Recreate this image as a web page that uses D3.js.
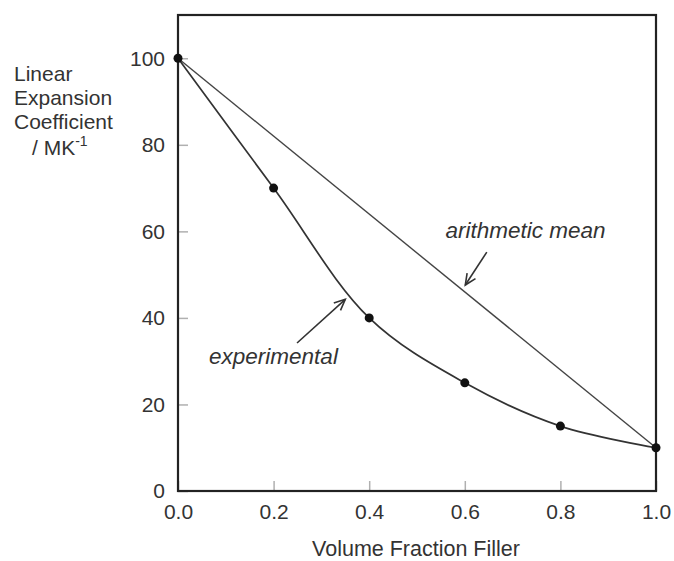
<!DOCTYPE html>
<html>
<head>
<meta charset="utf-8">
<script src="https://cdn.jsdelivr.net/npm/d3@7"></script>
<style>
  body { margin: 0; background: #fff; }
  text { font-family: 'Liberation Sans', Arial, sans-serif; fill: #333; }
</style>
</head>
<body>
<div class="chart"></div>
<script>
'use strict';

var fraction = [0.0, 0.2, 0.4, 0.6, 0.8, 1.0];
var experimental = [100, 70, 40, 25, 15, 10];
var meanEnds = [[0, 100], [1, 10]];
var xTicks = [0.0, 0.2, 0.4, 0.6, 0.8, 1.0];
var yTicks = [0, 20, 40, 60, 80, 100];
var yTitle = ['Linear', 'Expansion', 'Coefficient'];

var margin = {top: 15, right: 18, bottom: 70, left: 178},
  width = 674 - margin.left - margin.right,
  height = 561 - margin.top - margin.bottom;

var x = d3.scaleLinear().domain([0, 1]).range([0, width]);
var y = d3.scaleLinear().domain([0, 110]).range([height, 0]);

var root = d3.select('.chart').append('svg')
  .attr('width', 674)
  .attr('height', 561);

var defs = root.append('defs');
defs.append('marker')
  .attr('id', 'arrow')
  .attr('viewBox', '-12 -6 14 12')
  .attr('refX', 0).attr('refY', 0)
  .attr('markerWidth', 14).attr('markerHeight', 12)
  .attr('markerUnits', 'userSpaceOnUse')
  .attr('orient', 'auto')
  .append('path')
  .attr('d', 'M-11,-5L0,0L-11,5')
  .attr('fill', 'none')
  .attr('stroke', '#333')
  .attr('stroke-width', 1.6);

var svg = root.append('g')
  .attr('transform', 'translate(' + margin.left + ',' + margin.top + ')');

// axes with inward ticks
var xAxis = svg.append('g')
  .attr('transform', 'translate(0,' + height + ')')
  .call(d3.axisBottom(x).tickValues(xTicks).tickFormat(d3.format('.1f'))
    .tickSizeInner(-10).tickSizeOuter(0).tickPadding(13));
var yAxis = svg.append('g')
  .call(d3.axisLeft(y).tickValues(yTicks)
    .tickSizeInner(-10).tickSizeOuter(0).tickPadding(13));

[xAxis, yAxis].forEach(function(a) {
  a.select('.domain').remove();
  a.selectAll('line').attr('stroke', '#b0b0b0').attr('stroke-width', 1.5);
  a.selectAll('text')
    .attr('fill', '#333')
    .style('font-size', '21px')
    .style('font-family', "'Liberation Sans', Arial, sans-serif");
});

// frame
svg.append('rect')
  .attr('x', 0).attr('y', 0)
  .attr('width', width).attr('height', height)
  .attr('fill', 'none')
  .attr('stroke', '#222')
  .attr('stroke-width', 2.2);

// arithmetic mean line
svg.append('path')
  .datum(meanEnds)
  .attr('fill', 'none')
  .attr('stroke', '#444')
  .attr('stroke-width', 1.4)
  .attr('d', d3.line()
    .x(function(d) { return x(d[0]); })
    .y(function(d) { return y(d[1]); }));

// experimental curve
var pts = fraction.map(function(f, i) { return [f, experimental[i]]; });
svg.append('path')
  .datum(pts)
  .attr('fill', 'none')
  .attr('stroke', '#333')
  .attr('stroke-width', 1.7)
  .attr('d', d3.line()
    .curve(d3.curveCatmullRom.alpha(0.5))
    .x(function(d) { return x(d[0]); })
    .y(function(d) { return y(d[1]); }));

svg.selectAll('.pt')
  .data(pts)
  .enter().append('circle')
  .attr('class', 'pt')
  .attr('cx', function(d) { return x(d[0]); })
  .attr('cy', function(d) { return y(d[1]); })
  .attr('r', 4.5)
  .attr('fill', '#111');

// annotations
var notes = [
  {label: 'arithmetic mean', tx: 0.727, ty: 58.4, anchor: 'middle', from: [0.646, 55.2], to: [0.601, 47.6]},
  {label: 'experimental', tx: 0.065, ty: 29.4, anchor: 'start', from: [0.249, 34.2], to: [0.350, 44.3]}
];
notes.forEach(function(n) {
  svg.append('text')
    .attr('x', x(n.tx)).attr('y', y(n.ty))
    .attr('text-anchor', n.anchor)
    .style('font-size', '22.5px')
    .style('font-style', 'italic')
    .text(n.label);
  svg.append('line')
    .attr('x1', x(n.from[0])).attr('y1', y(n.from[1]))
    .attr('x2', x(n.to[0])).attr('y2', y(n.to[1]))
    .attr('stroke', '#333')
    .attr('stroke-width', 1.6)
    .attr('marker-end', 'url(#arrow)');
});

// y title
yTitle.forEach(function(t, i) {
  root.append('text')
    .attr('x', 14).attr('y', 81 + i * 24)
    .style('font-size', '21px')
    .text(t);
});
var unit = root.append('text')
  .attr('x', 32).attr('y', 155)
  .style('font-size', '21px');
unit.append('tspan').text('/ MK');
unit.append('tspan').attr('dy', -9).style('font-size', '14px').text('-1');

// x title
root.append('text')
  .attr('x', margin.left + width / 2 - 1).attr('y', 556)
  .attr('text-anchor', 'middle')
  .style('font-size', '21.5px')
  .text('Volume Fraction Filler');
</script>
</body>
</html>
